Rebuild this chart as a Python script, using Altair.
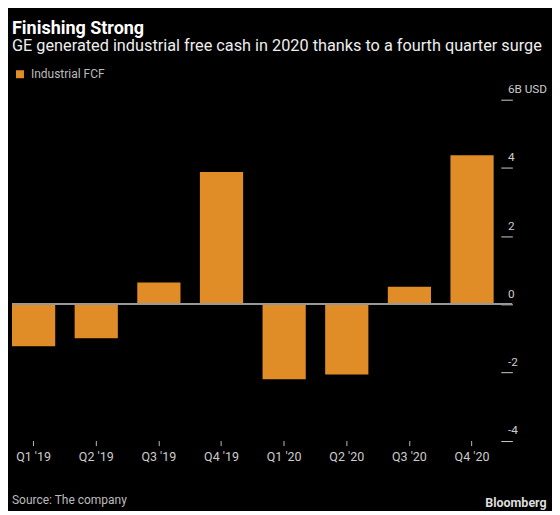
import altair as alt
import pandas as pd

quarters = ["Q1 '19", "Q2 '19", "Q3 '19", "Q4 '19", "Q1 '20", "Q2 '20", "Q3 '20", "Q4 '20"]
fcf = [-1.23, -1.0, 0.64, 3.88, -2.2, -2.06, 0.51, 4.37]
series_name = "Industrial FCF"
y_ticks = [-4, -2, 0, 2, 4, 6]

title_text = "Finishing Strong"
subtitle_text = "GE generated industrial free cash in 2020 thanks to a fourth quarter surge"
source_text = "Source: The company"
brand_text = "Bloomberg"

ORANGE = "#e08c27"
FONT = "Roboto"

df = pd.DataFrame({"quarter": quarters, "fcf": fcf, "series": [series_name] * len(quarters)})

W, H = 501, 341.5

bars = alt.Chart(df).mark_bar().encode(
    x=alt.X(
        "quarter:N",
        sort=quarters,
        title=None,
        scale=alt.Scale(paddingInner=0.31, paddingOuter=0.147, align=0),
        axis=alt.Axis(
            orient="bottom", domain=False, ticks=True, tickSize=5, tickColor="#bbbbbb",
            tickWidth=1, labelColor="#cccccc", labelFontSize=12.5, labelFont=FONT,
            labelPadding=5, labelAngle=0, grid=False,
        ),
    ),
    y=alt.Y(
        "fcf:Q",
        title=None,
        scale=alt.Scale(domain=[-4, 6], nice=False, zero=False),
        axis=alt.Axis(
            orient="right", values=y_ticks, domain=False, grid=False,
            tickSize=11.6, tickColor="#cccccc", tickWidth=1, offset=-11.3,
            labelAlign="left", labelBaseline="alphabetic", labelOffset=-7,
            labelPadding=-5, labelColor="#cccccc", labelFontSize=11.8, labelFont=FONT,
            labelExpr="datum.value == 6 ? '6B USD' : '' + datum.value",
        ),
    ),
    color=alt.Color(
        "series:N",
        scale=alt.Scale(domain=[series_name], range=[ORANGE]),
        legend=alt.Legend(
            title=None, orient="none", legendX=2, legendY=-31.5, symbolType="square",
            symbolSize=64, symbolStrokeWidth=0, labelColor="#bbbbbb", labelFontSize=12,
            labelFont=FONT, labelOffset=5, padding=0,
        ),
    ),
)

zero = alt.Chart(df).mark_rule(color="#999999", strokeWidth=1.2).encode(y=alt.datum(0))

src_df = pd.DataFrame({"t": [source_text]})
source = alt.Chart(src_df).mark_text(
    align="left", baseline="alphabetic", color="#bbbbbb", fontSize=12, font=FONT
).encode(text="t:N", x=alt.value(0), y=alt.value(404.6))

brand_df = pd.DataFrame({"t": [brand_text]})
brand = alt.Chart(brand_df).mark_text(
    align="right", baseline="alphabetic", color="#dddddd", fontSize=12.5,
    fontWeight="bold", font=FONT
).encode(text="t:N", x=alt.value(535.7), y=alt.value(408.3))

chart = alt.layer(bars, zero, source, brand).properties(
    width=W,
    height=H,
    autosize=alt.AutoSizeParams(type="none"),
    padding={"left": 4, "top": 91.4, "right": 40, "bottom": 70},
    background="#000000",
    title=alt.TitleParams(
        text=title_text,
        subtitle=subtitle_text,
        anchor="start",
        frame="group",
        orient="top",
        color="#ffffff",
        fontSize=18,
        fontWeight="bold",
        font=FONT,
        subtitleColor="#eeeeee",
        subtitleFontSize=16.3,
        subtitleFont=FONT,
        subtitlePadding=0,
        offset=14,
    ),
).configure_view(stroke=None)

chart.save("out.html", embed_options={"renderer": "svg", "actions": False})
